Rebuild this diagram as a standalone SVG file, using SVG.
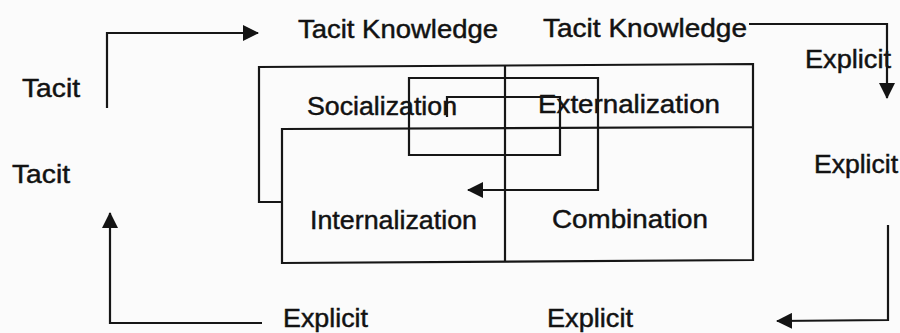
<svg xmlns="http://www.w3.org/2000/svg" width="900" height="333" viewBox="0 0 900 333">
<style>
  .t { font-family: "Liberation Sans", Arial, sans-serif; font-size: 25px; fill: #121212; stroke: #121212; stroke-width: 0.45; }
  .ln { fill: none; stroke: #161616; stroke-width: 2.2; stroke-linejoin: miter; }
  .ar { fill: none; stroke: #161616; stroke-width: 2.2; marker-end: url(#ah); }
</style>
<defs>
  <marker id="ah" markerWidth="16" markerHeight="16" viewBox="0 0 16 16" refX="15" refY="8" orient="auto" markerUnits="userSpaceOnUse">
    <path d="M0,0 L16,8 L0,16 Z" fill="#141414"/>
  </marker>
</defs>
<rect width="900" height="333" fill="#fbfbfb"/>

<g id="matrix-frame">
  <path class="ln" d="M282,202 L259,202 L259,67 L753,64 L753,260 L282,263 L282,129 L753,127"/>
  <path class="ln" d="M505,65 L505,262"/>
</g>

<g id="node-socialization">
  <text class="t" x="307" y="115" textLength="150" lengthAdjust="spacingAndGlyphs">Socialization</text>
</g>
<g id="node-externalization">
  <text class="t" x="538" y="113" textLength="182" lengthAdjust="spacingAndGlyphs">Externalization</text>
</g>
<g id="node-internalization">
  <text class="t" x="310" y="229" textLength="167" lengthAdjust="spacingAndGlyphs">Internalization</text>
</g>
<g id="node-combination">
  <text class="t" x="552" y="228" textLength="156" lengthAdjust="spacingAndGlyphs">Combination</text>
</g>

<g id="label-tacit-knowledge-left">
  <text class="t" x="298" y="38" textLength="200" lengthAdjust="spacingAndGlyphs">Tacit Knowledge</text>
</g>
<g id="label-tacit-knowledge-right">
  <text class="t" x="543" y="37" textLength="204" lengthAdjust="spacingAndGlyphs">Tacit Knowledge</text>
</g>
<g id="label-tacit-top">
  <text class="t" x="22" y="97" textLength="58" lengthAdjust="spacingAndGlyphs">Tacit</text>
</g>
<g id="label-tacit-mid">
  <text class="t" x="12" y="183" textLength="58" lengthAdjust="spacingAndGlyphs">Tacit</text>
</g>
<g id="label-explicit-right-top">
  <text class="t" x="805" y="68" textLength="86" lengthAdjust="spacingAndGlyphs">Explicit</text>
</g>
<g id="label-explicit-right-mid">
  <text class="t" x="814" y="173" textLength="84" lengthAdjust="spacingAndGlyphs">Explicit</text>
</g>
<g id="label-explicit-bottom-left">
  <text class="t" x="283" y="327" textLength="85" lengthAdjust="spacingAndGlyphs">Explicit</text>
</g>
<g id="label-explicit-bottom-right">
  <text class="t" x="547" y="327" textLength="86" lengthAdjust="spacingAndGlyphs">Explicit</text>
</g>

<g id="connectors">
  <path class="ar" d="M107,108 L107,33 L258,33"/>
  <path class="ar" d="M749,24 L887,24 L887,98"/>
  <path class="ar" d="M888,225 L888,320 L777,321"/>
  <path class="ar" d="M262,323 L110,323 L110,213"/>
  <path class="ar" d="M447,117 L447,97 L560,97 L560,155 L409,155 L409,78 L598,78 L598,190 L468,190"/>
</g>
</svg>
